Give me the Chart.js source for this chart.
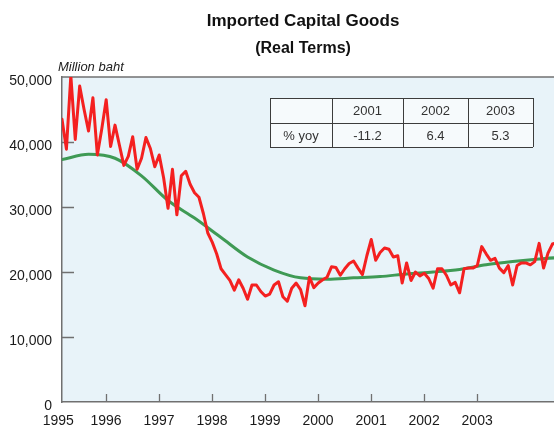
<!DOCTYPE html>
<html><head><meta charset="utf-8">
<script src="https://cdn.jsdelivr.net/npm/chart.js@4/dist/chart.umd.min.js"></script>
<style>html,body{margin:0;padding:0;background:#fff;}canvas{display:block;}</style>
</head><body>
<canvas id="c" width="554" height="430"></canvas>
<script>
// ---- data ----
const START_YEAR = 1995.17;          // x position of the first monthly observation
const MONTHS_PER_YEAR = 12;
// Imported capital goods, real terms, monthly (million baht)
const imports = [
  43500, 38900, 50200, 40400, 48600, 45000, 41700, 46800, 38000, 42000, 46500, 39300,
  42600, 39500, 36400, 37800, 40800, 35800, 37500, 40700, 39000, 36200, 38000, 34500,
  29800, 35800, 28800, 34800, 35500, 33500, 32200, 31500, 29000, 26000, 24600, 22800,
  20500, 19600, 18700, 17200, 18800, 17500, 15800, 18000, 18000, 17000, 16300, 16600,
  18000, 18500, 16200, 15500, 17500, 18300, 17300, 14800, 19200, 17600, 18300, 18800,
  19200, 20800, 20700, 19500, 20500, 21300, 21700, 20600, 19600, 22500, 25000, 21800,
  23000, 23700, 23500, 22300, 22500, 18300, 21400, 18700, 20000, 19400, 19800, 19000,
  17500, 20500, 20500, 19500, 18000, 18400, 16800, 20500, 20600, 20600, 21000, 23900,
  22800, 21800, 22100, 20600, 19900, 21000, 18000, 21000, 21400, 21400, 21100, 21600,
  24400, 20600, 22900, 24300, 24500
];
// Trend, read every 6 months
const TREND_STEP_MONTHS = 6;
const trend = [
  37300, 38100, 37500, 34800, 31000, 28300, 25300, 22300, 20300, 19100,
  18900, 19100, 19300, 19700, 20000, 20400, 21100, 21600, 22000, 22300
];
const firstYearLabel = '1995';
const yearTicks = [1996, 1997, 1998, 1999, 2000, 2001, 2002, 2003];
const yTicks = [0, 10000, 20000, 30000, 40000, 50000];
const tableYears = ['2001', '2002', '2003'];
const tableRowLabel = '% yoy';
const tableYoy = ['-11.2', '6.4', '5.3'];

const titleText = 'Imported Capital Goods';
const subtitleText = '(Real Terms)';
const unitText = 'Million baht';

const FONT = "'Liberation Sans', Arial, Helvetica, sans-serif";
const AXIS_COLOR = '#707070';

const importPoints = imports.map((v, i) => ({ x: START_YEAR + i / MONTHS_PER_YEAR, y: v }));
const trendPoints = trend.map((v, i) => ({ x: START_YEAR + i * TREND_STEP_MONTHS / MONTHS_PER_YEAR, y: v }));

const bgPlugin = {
  id: 'bg',
  beforeDraw(chart) {
    const { ctx, chartArea: a } = chart;
    ctx.save();
    ctx.fillStyle = '#e8f3f9';
    ctx.fillRect(a.left, a.top, a.right - a.left, a.bottom - a.top);
    ctx.restore();
  }
};

const ticksPlugin = {
  id: 'innerTicks',
  beforeDatasetsDraw(chart) {
    const { ctx, chartArea: a, scales: { x, y } } = chart;
    ctx.save();
    ctx.strokeStyle = AXIS_COLOR;
    ctx.lineWidth = 1.3;
    ctx.beginPath();
    yTicks.forEach(v => {
      if (v <= y.min || v >= y.max) return;
      const py = Math.round(y.getPixelForValue(v)) + 0.5;
      ctx.moveTo(a.left, py); ctx.lineTo(a.left + 12, py);
    });
    yearTicks.forEach(v => {
      const px = Math.round(x.getPixelForValue(v)) + 0.5;
      ctx.moveTo(px, a.bottom); ctx.lineTo(px, a.bottom - 8);
    });
    ctx.stroke();
    // top frame line
    ctx.beginPath();
    ctx.lineWidth = 1.5;
    ctx.moveTo(a.left, a.top); ctx.lineTo(a.right, a.top);
    ctx.stroke();
    ctx.restore();
  }
};

const textPlugin = {
  id: 'texts',
  afterDraw(chart) {
    const { ctx } = chart;
    ctx.save();
    ctx.fillStyle = '#111';
    ctx.textAlign = 'center';
    ctx.textBaseline = 'alphabetic';
    ctx.font = 'bold 17px ' + FONT;
    ctx.fillText(titleText, 303, 25.5);
    ctx.font = 'bold 16px ' + FONT;
    ctx.fillText(subtitleText, 303, 53);
    ctx.textAlign = 'left';
    ctx.font = 'italic 13px ' + FONT;
    ctx.fillStyle = '#222';
    ctx.fillText(unitText, 58, 71);

    // table
    const xs = [270, 332, 403, 468, 533];
    const ys = [98, 123, 147];
    ctx.fillStyle = '#f6fafc';
    ctx.fillRect(xs[0], ys[0], xs[4] - xs[0], ys[2] - ys[0]);
    ctx.strokeStyle = '#3c3c3c';
    ctx.lineWidth = 1;
    ctx.beginPath();
    ys.forEach(yy => { ctx.moveTo(xs[0], yy + 0.5); ctx.lineTo(xs[4], yy + 0.5); });
    xs.forEach(xx => { ctx.moveTo(xx + 0.5, ys[0]); ctx.lineTo(xx + 0.5, ys[2]); });
    ctx.stroke();
    ctx.fillStyle = '#333';
    ctx.font = '13px ' + FONT;
    ctx.textAlign = 'center';
    ctx.textBaseline = 'middle';
    const row1 = ['', ...tableYears];
    const row2 = [tableRowLabel, ...tableYoy];
    for (let c = 0; c < 4; c++) {
      const cx = (xs[c] + xs[c + 1]) / 2;
      ctx.fillText(row1[c], cx, (ys[0] + ys[1]) / 2 + 1);
      ctx.fillText(row2[c], cx, (ys[1] + ys[2]) / 2 + 1);
    }
    ctx.restore();
  }
};

new Chart(document.getElementById('c'), {
  type: 'line',
  data: {
    datasets: [
      {
        label: 'Imported capital goods',
        data: importPoints,
        borderColor: '#f42020',
        borderWidth: 3,
        borderJoinStyle: 'round',
        borderCapStyle: 'round',
        pointRadius: 0,
        tension: 0,
        order: 0
      },
      {
        label: 'Trend',
        data: trendPoints,
        borderColor: '#3f9a55',
        borderWidth: 3,
        borderCapStyle: 'round',
        pointRadius: 0,
        cubicInterpolationMode: 'monotone',
        order: 1
      }
    ]
  },
  options: {
    responsive: false,
    animation: false,
    devicePixelRatio: 1,
    layout: { padding: { top: 77, left: 0, right: 0, bottom: 0 } },
    plugins: { legend: { display: false }, tooltip: { enabled: false }, title: { display: false } },
    scales: {
      x: {
        type: 'linear',
        min: START_YEAR,
        max: 2004.45,
        afterFit(s) { s.height = 28; },
        afterBuildTicks(s) {
          s.ticks = [{ value: START_YEAR - 0.07 }, ...yearTicks.map(v => ({ value: v }))];
        },
        grid: { display: false, drawTicks: false },
        border: { display: true, color: AXIS_COLOR, width: 1.5 },
        ticks: {
          autoSkip: false, maxRotation: 0, minRotation: 0, padding: 11,
          color: '#1a1a1a', font: { family: FONT, size: 14 },
          callback: (v, i) => i === 0 ? firstYearLabel : String(Math.round(v))
        }
      },
      y: {
        min: 0,
        max: 50000,
        afterFit(s) { s.width = 62; },
        afterBuildTicks(s) { s.ticks = yTicks.map(v => ({ value: v })); },
        grid: { display: false, drawTicks: false },
        border: { display: true, color: AXIS_COLOR, width: 1.5 },
        ticks: {
          padding: 10, labelOffset: 4,
          color: '#1a1a1a', font: { family: FONT, size: 14 },
          callback: v => v.toLocaleString('en-US')
        }
      }
    }
  },
  plugins: [bgPlugin, ticksPlugin, textPlugin]
});
</script>
</body></html>
